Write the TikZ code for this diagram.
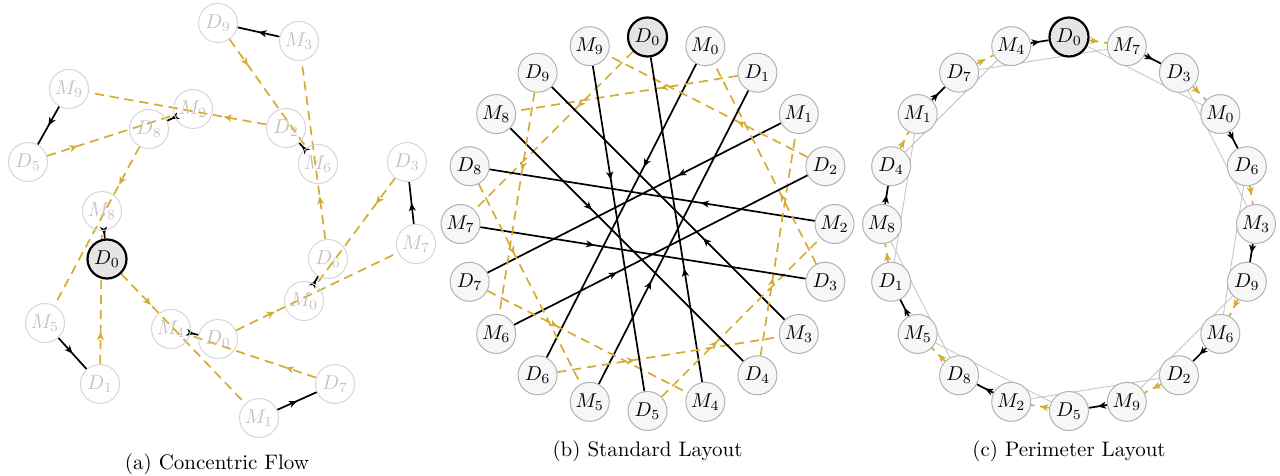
\documentclass[tikz,border=0pt]{standalone}
\usetikzlibrary{arrows.meta,decorations.markings,backgrounds}
\definecolor{gold}{RGB}{213,172,50}
\begin{document}
\begin{tikzpicture}[x=0.5pt,y=-0.5pt,
  nd/.style={circle,minimum size=19.5pt,inner sep=0pt,draw=black!30,fill=black!3,line width=0.5pt,font=\fontsize{10.4}{12}\selectfont},
  hl/.style={circle,minimum size=19.5pt,inner sep=0pt,draw=black,fill=black!10,line width=1.1pt,font=\fontsize{10.4}{12}\selectfont},
  fd/.style={circle,minimum size=19.5pt,inner sep=0pt,draw=black!16,line width=0.5pt,text=black!24,font=\fontsize{10.4}{12}\selectfont},
  am/.style={postaction={decorate,decoration={markings,mark=at position #1 with {\arrow{Stealth[length=4pt,width=3.5pt,inset=1.1pt]}}}}},
  blk/.style={draw=black,line width=0.85pt},
  gld/.style={draw=gold,line width=0.85pt,dash pattern=on 4.6pt off 2.9pt},
  chord/.style={draw=black!22,line width=0.45pt},
  captxt/.style={font=\fontsize{10.5}{12}\selectfont}]
\useasboundingbox (0,0) rectangle (1280,476);

% ---------- (a) Concentric Flow ----------
\node[fd] (aD9) at (218,23) {$D_9$};
\node[fd] (aM3) at (299,41) {$M_3$};
\node[fd] (aM9) at (69,89) {$M_9$};
\node[fd] (aM2) at (193,109) {$M_2$};
\node[fd] (aD8) at (149,129) {$D_8$};
\node[fd] (aD2) at (286,128) {$D_2$};
\node[fd] (aM6) at (318,164) {$M_6$};
\node[fd] (aD5) at (28,162) {$D_5$};
\node[fd] (aD3) at (407,162) {$D_3$};
\node[fd] (aM8) at (102,211) {$M_8$};
\node[hl] (aD4) at (107,259) {$D_0$};
\node[fd] (aD6) at (328,259) {$D_6$};
\node[fd] (aM7) at (416,244) {$M_7$};
\node[fd] (aM0) at (304,301) {$M_0$};
\node[fd] (aM5) at (45,323) {$M_5$};
\node[fd] (aM4) at (171,329) {$M_4$};
\node[fd] (aD0) at (218,339) {$D_0$};
\node[fd] (aD7) at (335,384) {$D_7$};
\node[fd] (aD1) at (100,384) {$D_1$};
\node[fd] (aM1) at (259,418) {$M_1$};
\node[captxt] (capa) at (217,464) {(a) Concentric Flow};

% ---------- (b) Standard Layout ----------
\begin{scope}[shift={(647.5,224)}]
  \node[hl] (bD0) at (-90:187) {$D_0$};
  \foreach \i in {1,...,9}{
    \node[nd] (bD\i) at ({36*\i-90}:187) {$D_{\i}$};
  }
  \foreach \i in {0,...,9}{
    \node[nd] (bM\i) at ({36*\i-72}:187) {$M_{\i}$};
  }
\end{scope}
\node[captxt] (capb) at (647.5,451) {(b) Standard Layout};

% ---------- (c) Perimeter Layout ----------
\begin{scope}[shift={(1069,224)}]
  \foreach \m in {0,...,9}{
    \pgfmathtruncatemacro\d{mod(3*\m,10)}
    \pgfmathtruncatemacro\mm{mod(3*\m+7,10)}
    \ifnum\d=0
      \node[hl] (cD\d) at ({36*\m-90}:187) {$D_{\d}$};
    \else
      \node[nd] (cD\d) at ({36*\m-90}:187) {$D_{\d}$};
    \fi
    \node[nd] (cM\mm) at ({36*\m-72}:187) {$M_{\mm}$};
  }
\end{scope}
\node[captxt] (capc) at (1069,451) {(c) Perimeter Layout};

% ---------- edges ----------
\begin{pgfonlayer}{background}
  \foreach \i in {0,...,9}{
    \pgfmathtruncatemacro\j{mod(\i+6,10)}
    \pgfmathtruncatemacro\k{mod(\i+7,10)}
    % (a)
    \draw[blk,am=0.5] (aM\i) -- (aD\j);
    \draw[gld,am=0.24] (aD\i) -- (aM\k);
    % (b)
    \draw[blk,am=0.35] (bM\i) -- (bD\j);
    \draw[gld,am=0.35] (bD\i) -- (bM\k);
    % (c)
    \draw[chord] (cD\i) -- (cM\i);
    \draw[blk,am=0.5] (cM\i) -- (cD\j);
    \draw[gld,am=0.5] (cD\i) -- (cM\k);
  }
\end{pgfonlayer}
\end{tikzpicture}
\end{document}
